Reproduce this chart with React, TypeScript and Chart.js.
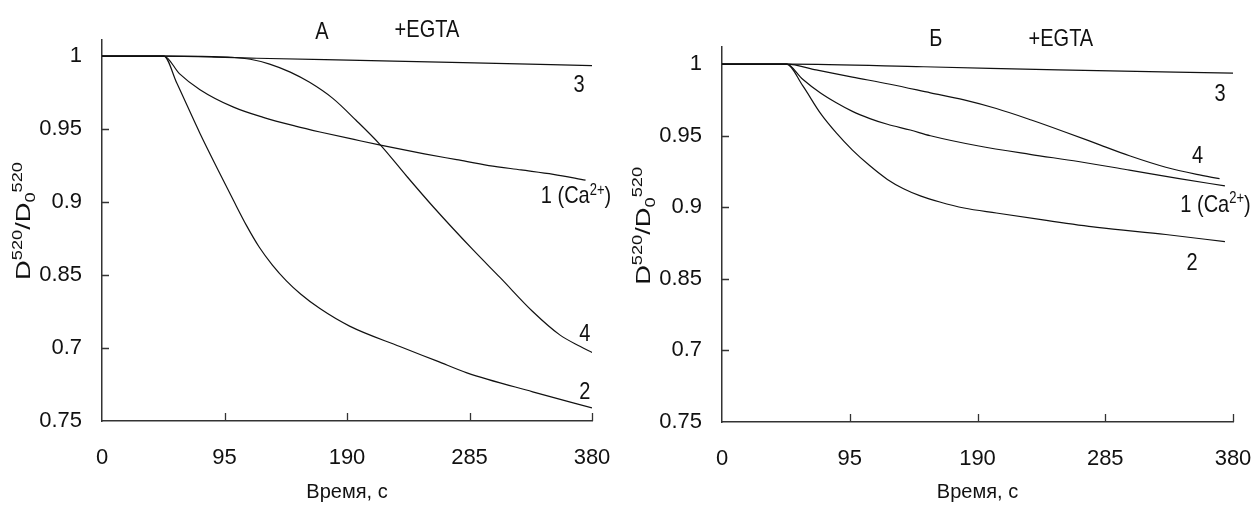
import React, { useEffect, useRef } from "react";
import { Chart, registerables } from "chart.js";
Chart.register(...registerables);

const FONT = '"Liberation Sans", Arial, Helvetica, sans-serif';
const INK = "#111111";
const AXIS = "#333333";

// ---- axes ----
const xTickValues = [0, 95, 190, 285, 380];
const xTickLabels = ["0", "95", "190", "285", "380"];
const yTickValues = [1, 0.95, 0.9, 0.85, 0.8, 0.75];
const yTickLabels = ["1", "0.95", "0.9", "0.85", "0.7", "0.75"];
const xAxisTitle = "Время, с";

type Part = { t: string; k?: "sup" | "sub" };
const yAxisTitle: Part[] = [
  { t: "D" },
  { t: "520", k: "sup" },
  { t: "/D" },
  { t: "0", k: "sub" },
  { t: "520", k: "sup" },
];

// ---- panel A ----
const a3Time = [0, 50, 120, 200, 280, 380];
const a3Value = [1, 1, 0.9985, 0.997, 0.9955, 0.9935];
const a1Time = [0, 48, 60, 76, 102, 125, 150, 169, 200, 216, 250, 275, 300, 325, 350, 375];
const a1Value = [1, 1, 0.988, 0.977, 0.965, 0.958, 0.952, 0.948, 0.942, 0.939, 0.933, 0.929, 0.925, 0.922, 0.919, 0.915];
const a4Time = [0, 48, 85, 100, 115, 130, 146, 161, 179, 197, 216, 236, 257, 288, 309, 334, 355, 371, 380];
const a4Value = [1, 1, 0.9997, 0.9992, 0.9978, 0.9945, 0.989, 0.982, 0.971, 0.956, 0.939, 0.918, 0.8966, 0.867, 0.848, 0.825, 0.809, 0.801, 0.797];
const a2Time = [0, 48, 58, 76, 90, 102, 112, 122, 132, 143, 154, 169, 192, 231, 260, 283, 334, 380];
const a2Value = [1, 1, 0.9815, 0.947, 0.922, 0.901, 0.884, 0.869, 0.857, 0.846, 0.837, 0.827, 0.815, 0.801, 0.791, 0.783, 0.77, 0.759];

// ---- panel Б ----
const b3Time = [0, 50, 150, 250, 380];
const b3Value = [1, 1, 0.9982, 0.996, 0.9937];
const b4Time = [0, 48, 70, 97, 125, 155, 180, 204, 230, 254, 280, 303, 330, 353, 370];
const b4Value = [1, 1, 0.996, 0.991, 0.986, 0.98, 0.975, 0.969, 0.961, 0.953, 0.944, 0.936, 0.928, 0.923, 0.92];
const b1Time = [0, 48, 60, 73, 85, 97, 110, 123, 140, 155, 190, 229, 265, 303, 340, 374];
const b1Value = [1, 1, 0.9895, 0.98, 0.973, 0.967, 0.962, 0.958, 0.954, 0.95, 0.943, 0.937, 0.932, 0.926, 0.92, 0.915];
const b2Time = [0, 48, 60, 73, 85, 97, 110, 123, 135, 148, 162, 180, 204, 240, 279, 330, 374];
const b2Value = [1, 1, 0.985, 0.966, 0.952, 0.94, 0.929, 0.9195, 0.913, 0.9078, 0.9037, 0.8995, 0.896, 0.891, 0.886, 0.881, 0.876];

// ---- curve labels (anchored in data units) ----
const caLabel: Part[] = [{ t: "1 (Ca" }, { t: "2+", k: "sup" }, { t: ")" }];
type Lbl = { x: number; y: number; parts: Part[] };
const labelsA: Lbl[] = [
  { x: 370, y: 0.981, parts: [{ t: "3" }] },
  { x: 374.5, y: 0.811, parts: [{ t: "4" }] },
  { x: 374.5, y: 0.771, parts: [{ t: "2" }] },
  { x: 367.6, y: 0.905, parts: caLabel },
  { x: 170.6, y: 1.0178, parts: [{ t: "А" }] },
  { x: 252, y: 1.019, parts: [{ t: "+EGTA" }] },
];
const labelsB: Lbl[] = [
  { x: 370.3, y: 0.9804, parts: [{ t: "3" }] },
  { x: 353.6, y: 0.937, parts: [{ t: "4" }] },
  { x: 367, y: 0.903, parts: caLabel },
  { x: 349.5, y: 0.8624, parts: [{ t: "2" }] },
  { x: 159, y: 1.019, parts: [{ t: "Б" }] },
  { x: 252, y: 1.019, parts: [{ t: "+EGTA" }] },
];

function drawRich(
  ctx: CanvasRenderingContext2D,
  parts: Part[],
  cx: number,
  cy: number,
  size: number,
  sx: number,
  sy: number,
  rotate: number
) {
  const small = Math.round(size * 0.66);
  const widths = parts.map((p) => {
    ctx.font = `${p.k ? small : size}px ${FONT}`;
    return ctx.measureText(p.t).width;
  });
  const total = widths.reduce((a, b) => a + b, 0);
  ctx.save();
  ctx.translate(cx, cy);
  ctx.rotate(rotate);
  ctx.scale(sx, sy);
  ctx.fillStyle = INK;
  ctx.textAlign = "left";
  ctx.textBaseline = "alphabetic";
  let x = -total / 2;
  const base = size * 0.358;
  parts.forEach((p, i) => {
    ctx.font = `${p.k ? small : size}px ${FONT}`;
    const dy = p.k === "sup" ? -size * 0.36 : p.k === "sub" ? size * 0.24 : 0;
    ctx.fillText(p.t, x, base + dy);
    x += widths[i];
  });
  ctx.restore();
}

const decorPlugin = {
  id: "decor",
  afterDraw(chart: any, _args: any, opts: any) {
    const { ctx } = chart;
    const xs = chart.scales.x;
    const ys = chart.scales.y;
    ctx.save();
    ctx.strokeStyle = AXIS;
    ctx.lineWidth = 1.3;
    ctx.beginPath();
    yTickValues.forEach((v) => {
      if (v === 0.75 || v === 1) return;
      const py = Math.round(ys.getPixelForValue(v)) + 0.5;
      ctx.moveTo(xs.left, py);
      ctx.lineTo(xs.left + 7, py);
    });
    xTickValues.forEach((v) => {
      if (v === 0) return;
      const px = Math.round(xs.getPixelForValue(v)) + 0.5;
      ctx.moveTo(px, ys.bottom);
      ctx.lineTo(px, ys.bottom - 8);
    });
    ctx.stroke();
    ctx.restore();

    (opts.labels as Lbl[]).forEach((l) => {
      drawRich(ctx, l.parts, xs.getPixelForValue(l.x), ys.getPixelForValue(l.y), 20, 1, 1.2, 0);
    });

    drawRich(ctx, yAxisTitle, xs.left - 80, ys.getPixelForValue(0.887), 21, 1.3, 1, -Math.PI / 2);
  },
};

type Curve = { t: number[]; v: number[] };
type Spec = {
  left: number;
  top: number;
  right: number;
  bottom: number;
  yWidth: number;
  ymax: number;
  curves: Curve[];
  labels: Lbl[];
};

const specA: Spec = {
  left: 0,
  top: 40,
  right: 35,
  bottom: 87,
  yWidth: 102,
  ymax: 1.011,
  curves: [
    { t: a3Time, v: a3Value },
    { t: a1Time, v: a1Value },
    { t: a4Time, v: a4Value },
    { t: a2Time, v: a2Value },
  ],
  labels: labelsA,
};
const specB: Spec = {
  left: 627,
  top: 47,
  right: 21,
  bottom: 86,
  yWidth: 95,
  ymax: 1.012,
  curves: [
    { t: b3Time, v: b3Value },
    { t: b4Time, v: b4Value },
    { t: b1Time, v: b1Value },
    { t: b2Time, v: b2Value },
  ],
  labels: labelsB,
};

function Panel({ spec }: { spec: Spec }) {
  const ref = useRef<HTMLCanvasElement>(null);
  useEffect(() => {
    const chart = new Chart(ref.current as HTMLCanvasElement, {
      type: "line",
      data: {
        datasets: spec.curves.map((c) => ({
          data: c.t.map((x, i) => ({ x, y: c.v[i] })),
          borderColor: INK,
          borderWidth: 1.2,
          pointRadius: 0,
          cubicInterpolationMode: "monotone",
          fill: false,
        })),
      },
      options: {
        animation: false,
        responsive: false,
        devicePixelRatio: 1,
        layout: { padding: { top: spec.top, right: spec.right, left: 0, bottom: 0 } },
        plugins: {
          legend: { display: false },
          tooltip: { enabled: false },
          decor: { labels: spec.labels },
        } as any,
        scales: {
          x: {
            type: "linear",
            min: 0,
            max: 380,
            afterBuildTicks: (s: any) => {
              s.ticks = xTickValues.map((v) => ({ value: v }));
            },
            afterFit: (s: any) => {
              s.height = spec.bottom;
            },
            grid: { display: false, drawTicks: true, tickLength: 24 },
            border: { display: true, color: AXIS, width: 1.5 },
            ticks: {
              autoSkip: false,
              maxRotation: 0,
              padding: 0,
              color: INK,
              font: { family: FONT, size: 22 },
              callback: (v: any) => xTickLabels[xTickValues.indexOf(Number(v))],
            },
            title: {
              display: true,
              text: xAxisTitle,
              color: INK,
              font: { family: FONT, size: 20 },
              padding: { top: 0, bottom: 4 },
            },
          },
          y: {
            type: "linear",
            min: 0.75,
            max: spec.ymax,
            afterBuildTicks: (s: any) => {
              s.ticks = yTickValues.map((v) => ({ value: v }));
            },
            afterFit: (s: any) => {
              s.width = spec.yWidth;
            },
            grid: { display: false, drawTicks: true, tickLength: 20 },
            border: { display: true, color: AXIS, width: 1.5 },
            ticks: {
              autoSkip: false,
              padding: 0,
              color: INK,
              font: { family: FONT, size: 22 },
              callback: (v: any) => yTickLabels[yTickValues.indexOf(Number(v))],
            },
          },
        },
      } as any,
      plugins: [decorPlugin as any],
    });
    return () => chart.destroy();
  }, []);
  return (
    <canvas
      ref={ref}
      width={627}
      height={508}
      style={{ position: "absolute", left: spec.left, top: 0, width: 627, height: 508 }}
    />
  );
}

export default function App() {
  return (
    <div
      style={{
        position: "fixed",
        left: 0,
        top: 0,
        width: 1254,
        height: 508,
        background: "#ffffff",
        overflow: "hidden",
      }}
    >
      <Panel spec={specA} />
      <Panel spec={specB} />
    </div>
  );
}
